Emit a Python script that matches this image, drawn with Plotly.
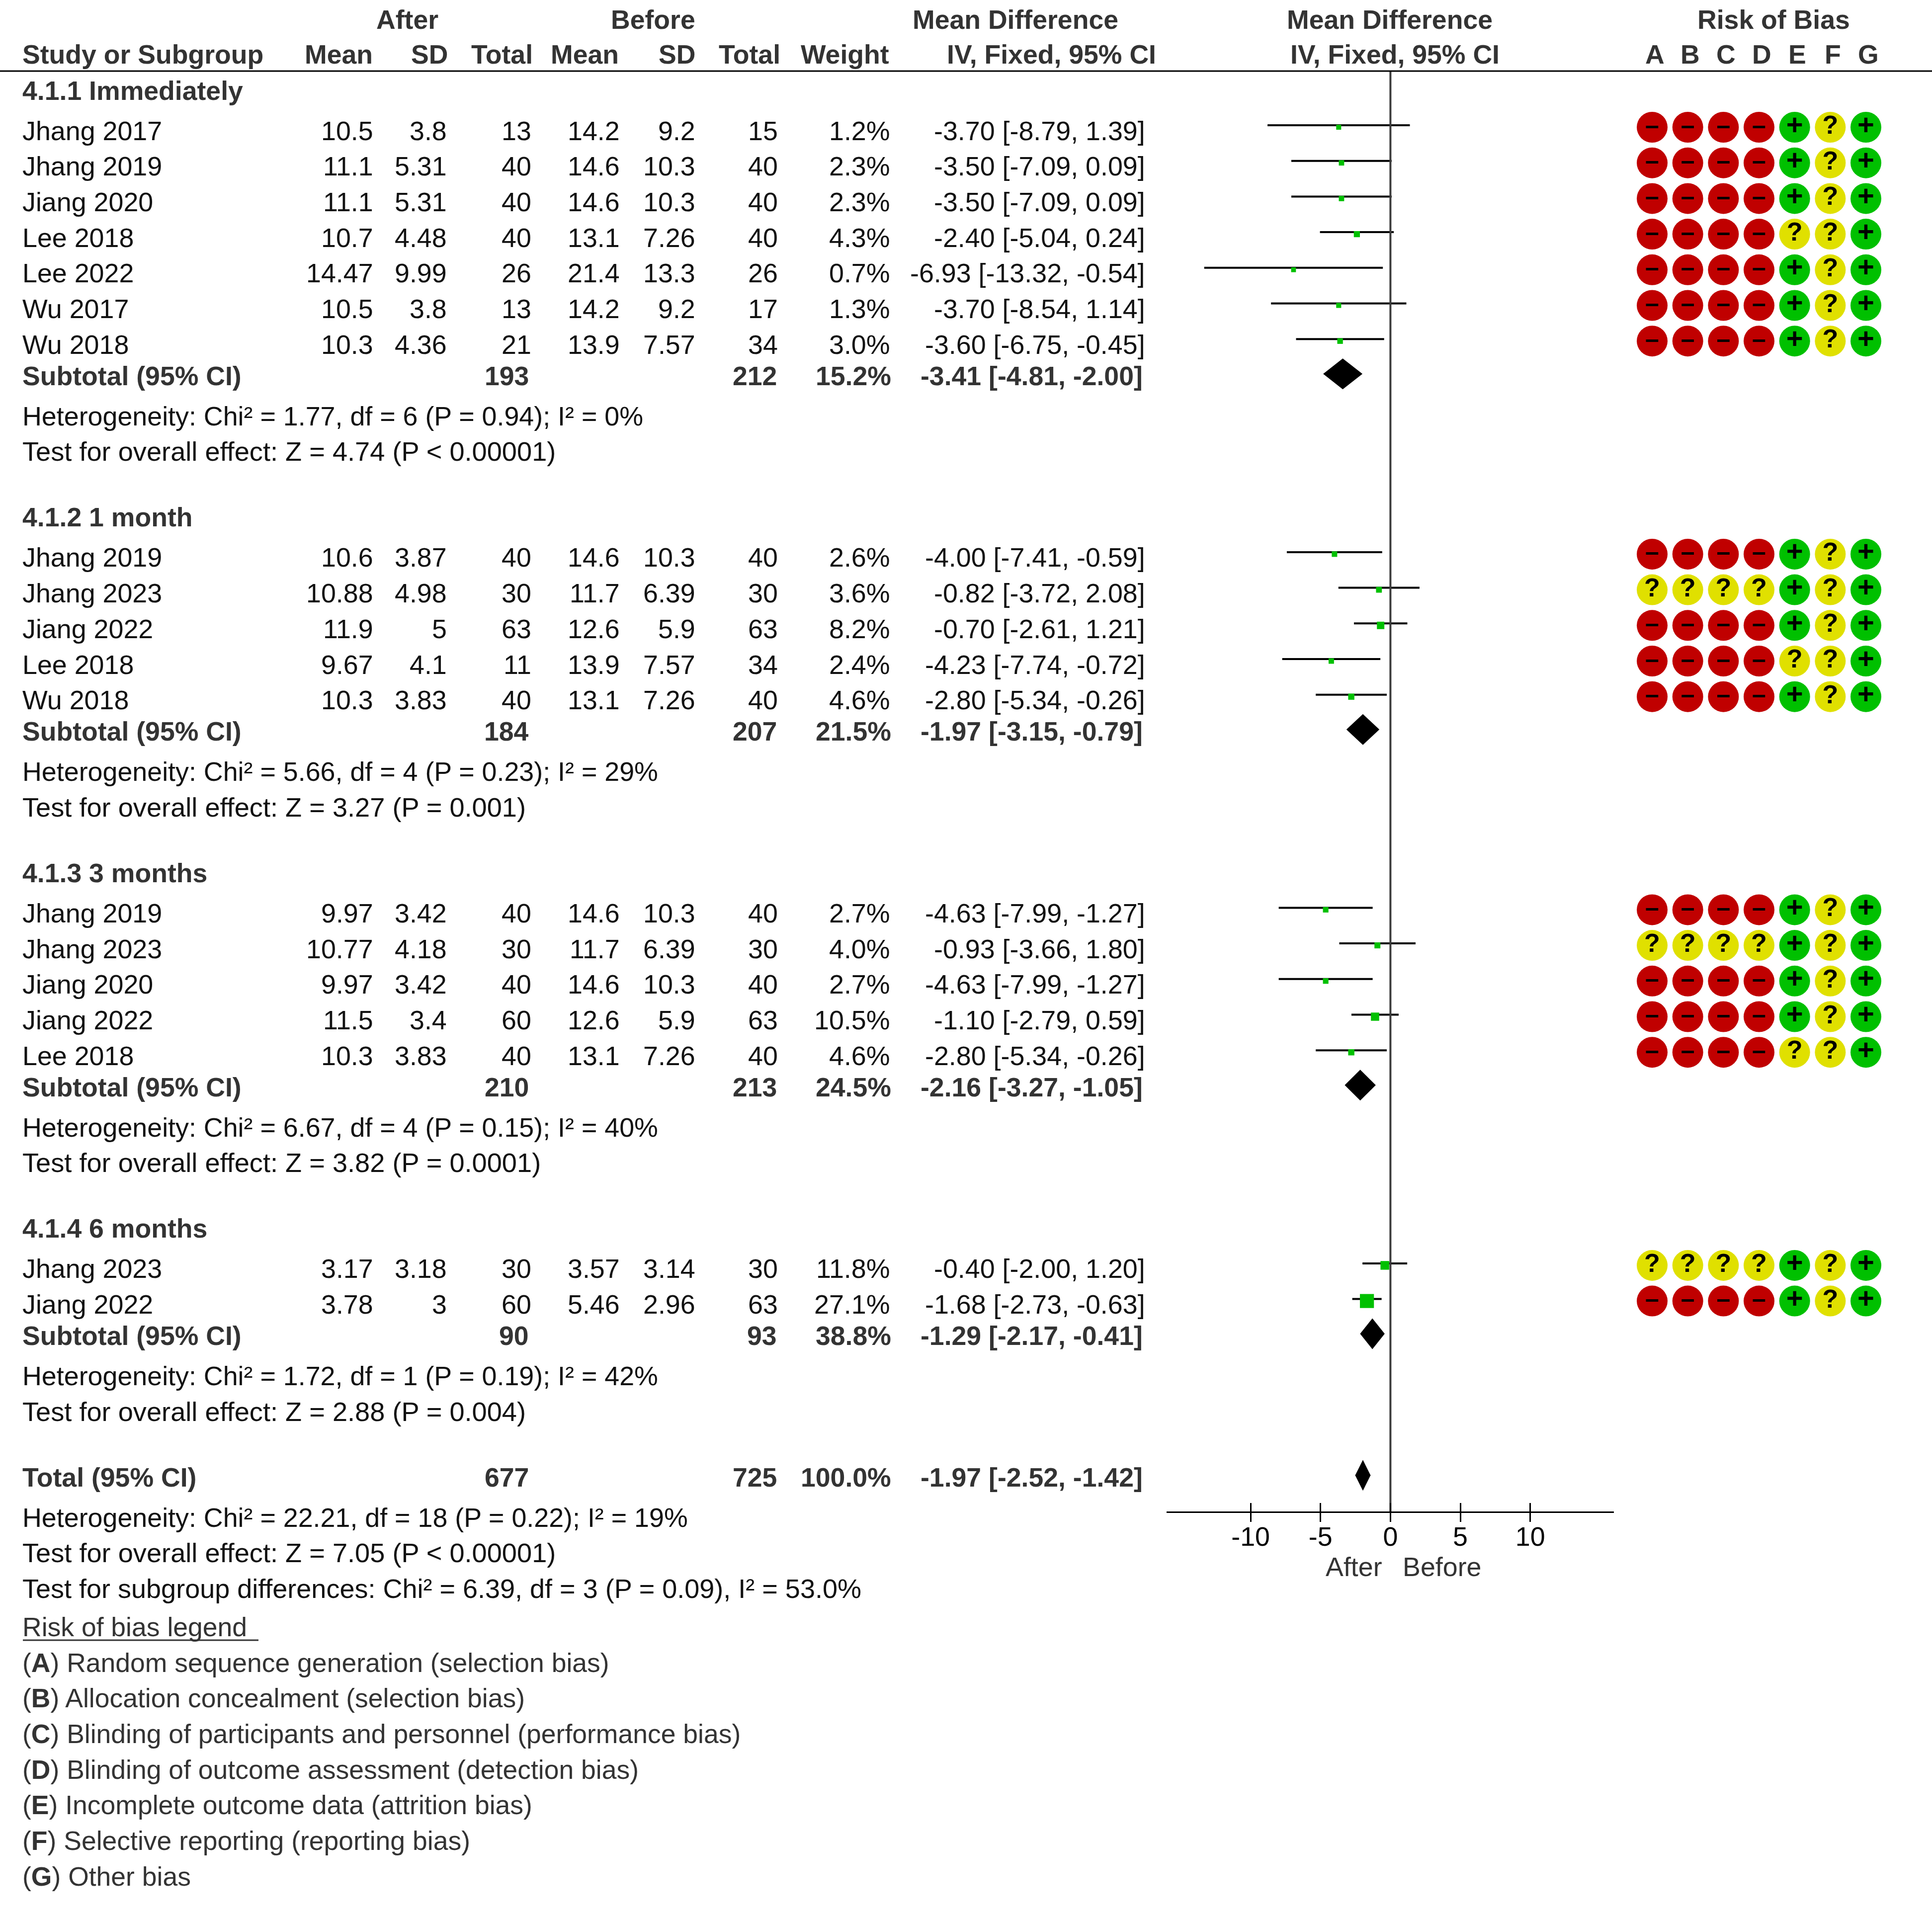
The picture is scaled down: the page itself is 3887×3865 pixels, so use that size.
import plotly.graph_objects as go

# ---- study rows ----
group_titles = ["4.1.1 Immediately", "4.1.2 1 month", "4.1.3 3 months", "4.1.4 6 months"]
group_sizes = [7, 5, 5, 2]
studies = ["Jhang 2017", "Jhang 2019", "Jiang 2020", "Lee 2018", "Lee 2022", "Wu 2017", "Wu 2018",
           "Jhang 2019", "Jhang 2023", "Jiang 2022", "Lee 2018", "Wu 2018",
           "Jhang 2019", "Jhang 2023", "Jiang 2020", "Jiang 2022", "Lee 2018",
           "Jhang 2023", "Jiang 2022"]
after_mean = [10.5, 11.1, 11.1, 10.7, 14.47, 10.5, 10.3,
              10.6, 10.88, 11.9, 9.67, 10.3,
              9.97, 10.77, 9.97, 11.5, 10.3,
              3.17, 3.78]
after_sd = [3.8, 5.31, 5.31, 4.48, 9.99, 3.8, 4.36,
            3.87, 4.98, 5, 4.1, 3.83,
            3.42, 4.18, 3.42, 3.4, 3.83,
            3.18, 3]
after_n = [13, 40, 40, 40, 26, 13, 21,
           40, 30, 63, 11, 40,
           40, 30, 40, 60, 40,
           30, 60]
before_mean = [14.2, 14.6, 14.6, 13.1, 21.4, 14.2, 13.9,
               14.6, 11.7, 12.6, 13.9, 13.1,
               14.6, 11.7, 14.6, 12.6, 13.1,
               3.57, 5.46]
before_sd = [9.2, 10.3, 10.3, 7.26, 13.3, 9.2, 7.57,
             10.3, 6.39, 5.9, 7.57, 7.26,
             10.3, 6.39, 10.3, 5.9, 7.26,
             3.14, 2.96]
before_n = [15, 40, 40, 40, 26, 17, 34,
            40, 30, 63, 34, 40,
            40, 30, 40, 63, 40,
            30, 63]
weights = [1.2, 2.3, 2.3, 4.3, 0.7, 1.3, 3.0,
           2.6, 3.6, 8.2, 2.4, 4.6,
           2.7, 4.0, 2.7, 10.5, 4.6,
           11.8, 27.1]
md = [-3.70, -3.50, -3.50, -2.40, -6.93, -3.70, -3.60,
      -4.00, -0.82, -0.70, -4.23, -2.80,
      -4.63, -0.93, -4.63, -1.10, -2.80,
      -0.40, -1.68]
ci_low = [-8.79, -7.09, -7.09, -5.04, -13.32, -8.54, -6.75,
          -7.41, -3.72, -2.61, -7.74, -5.34,
          -7.99, -3.66, -7.99, -2.79, -5.34,
          -2.00, -2.73]
ci_high = [1.39, 0.09, 0.09, 0.24, -0.54, 1.14, -0.45,
           -0.59, 2.08, 1.21, -0.72, -0.26,
           -1.27, 1.80, -1.27, 0.59, -0.26,
           1.20, -0.63]
risk = ["----+?+", "----+?+", "----+?+", "----??+", "----+?+", "----+?+", "----+?+",
        "----+?+", "????+?+", "----+?+", "----??+", "----+?+",
        "----+?+", "????+?+", "----+?+", "----+?+", "----??+",
        "????+?+", "----+?+"]

# ---- subgroup summaries ----
sub_after_n = [193, 184, 210, 90]
sub_before_n = [212, 207, 213, 93]
sub_weight = [15.2, 21.5, 24.5, 38.8]
sub_md = [-3.41, -1.97, -2.16, -1.29]
sub_low = [-4.81, -3.15, -3.27, -2.17]
sub_high = [-2.00, -0.79, -1.05, -0.41]
sub_het = ["Heterogeneity: Chi² = 1.77, df = 6 (P = 0.94); I² = 0%",
           "Heterogeneity: Chi² = 5.66, df = 4 (P = 0.23); I² = 29%",
           "Heterogeneity: Chi² = 6.67, df = 4 (P = 0.15); I² = 40%",
           "Heterogeneity: Chi² = 1.72, df = 1 (P = 0.19); I² = 42%"]
sub_test = ["Test for overall effect: Z = 4.74 (P < 0.00001)",
            "Test for overall effect: Z = 3.27 (P = 0.001)",
            "Test for overall effect: Z = 3.82 (P = 0.0001)",
            "Test for overall effect: Z = 2.88 (P = 0.004)"]

# ---- overall summary ----
total_after_n, total_before_n, total_weight = 677, 725, 100.0
total_md, total_low, total_high = -1.97, -2.52, -1.42
total_notes = ["Heterogeneity: Chi² = 22.21, df = 18 (P = 0.22); I² = 19%",
               "Test for overall effect: Z = 7.05 (P < 0.00001)",
               "Test for subgroup differences: Chi² = 6.39, df = 3 (P = 0.09), I² = 53.0%"]

domains = ["A", "B", "C", "D", "E", "F", "G"]
legend_items = ["Random sequence generation (selection bias)",
                "Allocation concealment (selection bias)",
                "Blinding of participants and personnel (performance bias)",
                "Blinding of outcome assessment (detection bias)",
                "Incomplete outcome data (attrition bias)",
                "Selective reporting (reporting bias)",
                "Other bias"]
tick_values = [-10, -5, 0, 5, 10]
tick_labels = ["-10", "-5", "0", "5", "10"]

# ---- page geometry ----
W, H = 3887, 3865
ROW = 71.7
FS = 53.8
FS_BOLD = 53.6
FS_TEST = 54.2
FS_LEGEND = 53.5
DARK = "#333333"
BODY = "#111111"
LEFT = 46
COL_AFTER_MEAN, COL_AFTER_SD, COL_AFTER_N = 750, 898, 1068
COL_BEFORE_MEAN, COL_BEFORE_SD, COL_BEFORE_N = 1246, 1398, 1564
COL_WEIGHT, COL_CI = 1790, 2303
AXIS_Y = 3041.6
ZERO_PX, PX_PER_UNIT = 2797.4, 28.13


def square_size(w):
    return 9.2 + 0.7 * w


annotations = []


def text(px, py, s, anchor="left", bold=False, color=BODY, size=None):
    # annotation boxes carry a little padding, so edge-anchored text is nudged outward
    nudge = {"left": -3, "right": 3, "center": 0}[anchor]
    annotations.append(dict(
        x=(px + nudge) / W, y=1 - (py - 1.5) / H, xref="paper", yref="paper",
        text=f"<b>{s}</b>" if bold else s,
        showarrow=False, xanchor=anchor, yanchor="middle",
        font=dict(family="Liberation Sans", size=size or (FS_BOLD if bold else FS), color=color)))


def ci_label(m, lo, hi):
    return f"{m:.2f} [{lo:.2f}, {hi:.2f}]"


# ---- column headings ----
text(819, 40, "After", "center", True, DARK)
text(1314, 40, "Before", "center", True, DARK)
text(2043, 40, "Mean Difference", "center", True, DARK)
text(2796, 40, "Mean Difference", "center", True, DARK)
text(3568, 40, "Risk of Bias", "center", True, DARK)
text(LEFT, 111, "Study or Subgroup", "left", True, DARK)
for px, label in [(749, "Mean"), (900, "SD"), (1071, "Total"), (1244, "Mean"),
                  (1398, "SD"), (1569, "Total"), (1788, "Weight")]:
    text(px, 111, label, "right", True, DARK)
text(2115, 111, "IV, Fixed, 95% CI", "center", True, DARK)
text(2806, 111, "IV, Fixed, 95% CI", "center", True, DARK)
for i, letter in enumerate(domains):
    text(3329 + i * 71.7, 111, letter, "center", True, DARK)

# ---- table body ----
row_y = []
sub_y = []
y = 183.0
start = 0
for g, title in enumerate(group_titles):
    text(LEFT, y, title, "left", True, DARK)
    y += 81
    for i in range(start, start + group_sizes[g]):
        row_y.append(y)
        text(LEFT, y, studies[i])
        text(COL_AFTER_MEAN, y, str(after_mean[i]), "right")
        text(COL_AFTER_SD, y, str(after_sd[i]), "right")
        text(COL_AFTER_N, y, str(after_n[i]), "right")
        text(COL_BEFORE_MEAN, y, str(before_mean[i]), "right")
        text(COL_BEFORE_SD, y, str(before_sd[i]), "right")
        text(COL_BEFORE_N, y, str(before_n[i]), "right")
        text(COL_WEIGHT, y, f"{weights[i]:.1f}%", "right")
        text(COL_CI, y, ci_label(md[i], ci_low[i], ci_high[i]), "right")
        y += ROW
    start += group_sizes[g]
    y += 63 - ROW
    sub_y.append(y)
    text(LEFT, y, "Subtotal (95% CI)", "left", True, DARK)
    text(COL_AFTER_N - 5, y, str(sub_after_n[g]), "right", True, DARK)
    text(COL_BEFORE_N - 2, y, str(sub_before_n[g]), "right", True, DARK)
    text(COL_WEIGHT + 2, y, f"{sub_weight[g]:.1f}%", "right", True, DARK)
    text(COL_CI - 5, y, ci_label(sub_md[g], sub_low[g], sub_high[g]), "right", True, DARK)
    y += 81
    text(LEFT, y, sub_het[g])
    y += ROW
    text(LEFT, y, sub_test[g], size=FS_TEST)
    y += 132

total_y = y
text(LEFT, y, "Total (95% CI)", "left", True, DARK)
text(COL_AFTER_N - 5, y, str(total_after_n), "right", True, DARK)
text(COL_BEFORE_N - 2, y, str(total_before_n), "right", True, DARK)
text(COL_WEIGHT + 2, y, f"{total_weight:.1f}%", "right", True, DARK)
text(COL_CI - 5, y, ci_label(total_md, total_low, total_high), "right", True, DARK)
y += 81
for note, size in zip(total_notes, [FS, FS_TEST, 54.0]):
    text(LEFT, y, note, size=size)
    y += ROW
y = 3275
text(LEFT, y, "Risk of bias legend", color=DARK, size=FS_LEGEND)
for letter, item in zip(domains, legend_items):
    y += ROW
    text(LEFT, y, f"(<b>{letter}</b>) {item}", color=DARK, size=FS_LEGEND)

text(2668, 3153, "After", "left", color=DARK)
text(2823, 3153, "Before", "left", color=DARK)

# ---- forest plot marks ----
fig = go.Figure()

CI_SHIFT, MARK_SHIFT = 12, 8

# confidence intervals
ci_x, ci_y = [], []
for lo, hi, yy in zip(ci_low, ci_high, row_y):
    ci_x += [lo, hi, None]
    ci_y += [yy - CI_SHIFT, yy - CI_SHIFT, None]
fig.add_trace(go.Scatter(x=ci_x, y=ci_y, mode="lines", xaxis="x", yaxis="y",
                         line=dict(color="black", width=4), hoverinfo="skip"))

# weighted point estimates
fig.add_trace(go.Scatter(x=md, y=[v - MARK_SHIFT for v in row_y], mode="markers", xaxis="x", yaxis="y",
                         marker=dict(symbol="square", color="#00C000", line_width=0, opacity=1,
                                     size=[square_size(w) for w in weights]),
                         hoverinfo="skip"))

# pooled estimates
for lo, m, hi, yy in zip(sub_low + [total_low], sub_md + [total_md],
                         sub_high + [total_high], sub_y + [total_y]):
    cy = yy - 5
    fig.add_trace(go.Scatter(x=[lo, m, hi, m, lo], y=[cy, cy - 31, cy, cy + 31, cy],
                             mode="lines", fill="toself", fillcolor="black", xaxis="x", yaxis="y",
                             line=dict(color="black", width=0), hoverinfo="skip"))

# line of no effect
fig.add_trace(go.Scatter(x=[0, 0], y=[143, AXIS_Y], mode="lines", xaxis="x2", yaxis="y",
                         line=dict(color="#3c3c3c", width=4), hoverinfo="skip"))

# risk of bias judgements
styles = {"-": ("#C00000", "–", 50), "?": ("#E0E000", "?", 52), "+": ("#00C000", "+", 58)}
for code, (colour, glyph, glyph_size) in styles.items():
    xs, ys = [], []
    for judgement, yy in zip(risk, row_y):
        for letter, mark in zip(domains, judgement):
            if mark == code:
                xs.append(letter)
                ys.append(yy - MARK_SHIFT)
    fig.add_trace(go.Scatter(x=xs, y=ys, mode="markers+text", xaxis="x3", yaxis="y",
                             marker=dict(size=62, color=colour, line_width=0, opacity=1),
                             text=[f"<b>{glyph}</b>"] * len(xs), textposition="middle center",
                             textfont=dict(family="Liberation Sans", size=glyph_size, color="black"),
                             hoverinfo="skip"))

# ---- layout ----
axis_span = 16
x_domain = [(ZERO_PX - axis_span * PX_PER_UNIT) / W, (ZERO_PX + axis_span * PX_PER_UNIT) / W]
fig.update_layout(
    width=W, height=H, margin=dict(l=0, r=0, t=0, b=0, pad=0), autosize=False,
    paper_bgcolor="white", plot_bgcolor="rgba(0,0,0,0)", showlegend=False,
    annotations=annotations,
    xaxis=dict(domain=x_domain, range=[-axis_span, axis_span], anchor="free",
               position=1 - AXIS_Y / H, showgrid=False, zeroline=False, showline=True,
               linecolor="black", linewidth=3, ticks="outside", ticklen=18, tickwidth=3,
               tickcolor="black", tickvals=tick_values, ticktext=tick_labels,
               ticklabelstandoff=-16,
               tickfont=dict(family="Liberation Sans", size=FS, color="black")),
    xaxis2=dict(domain=x_domain, range=[-axis_span, axis_span], anchor="free",
                position=1 - AXIS_Y / H, overlaying="x", showgrid=False, zeroline=False,
                showline=False, ticks="inside", ticklen=18, tickwidth=3, tickcolor="black",
                tickvals=tick_values, showticklabels=False),
    xaxis3=dict(domain=[(3324 - 35.85) / W, (3754 + 35.85) / W], anchor="y",
                type="category", categoryorder="array", categoryarray=domains,
                range=[-0.5, 6.5], visible=False),
    yaxis=dict(domain=[0, 1], range=[H, 0], visible=False, fixedrange=True),
    shapes=[
        dict(type="line", xref="paper", yref="paper", x0=0, x1=1, y0=1 - 143 / H, y1=1 - 143 / H,
             line=dict(color="black", width=3)),
        dict(type="line", xref="paper", yref="paper", x0=46 / W, x1=520 / W,
             y0=1 - 3300 / H, y1=1 - 3300 / H, line=dict(color=DARK, width=3)),
    ],
)

fig.write_html("out.html")
